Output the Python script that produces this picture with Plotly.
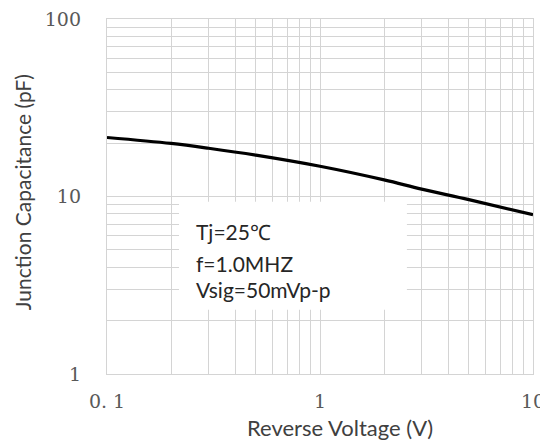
import plotly.graph_objects as go

# Data
voltage = [0.1, 0.2, 0.3, 0.5, 1, 2, 3, 5, 10]
capacitance = [21.5, 19.9, 18.7, 17.1, 14.8, 12.4, 11.0, 9.6, 7.9]

x_tickvals = [0.1, 1, 10]
x_ticktext = ["0. 1", "1", "10"]
y_tickvals = [1, 10, 100]
y_ticktext = ["1", "10", "100"]

x_title = "Reverse Voltage (V)"
y_title = "Junction Capacitance (pF)"
conditions = ["Tj=25\u2103", "f=1.0MHZ", "Vsig=50mVp-p"]

grid_color = "#d4d4d4"
tick_font = dict(family="DejaVu Serif", size=19, color="#595959")

fig = go.Figure()
fig.add_trace(go.Scatter(
    x=voltage, y=capacitance, mode="lines",
    line=dict(color="black", width=3.2, shape="spline", smoothing=1.0),
    showlegend=False, hoverinfo="skip",
))

common = dict(
    type="log", tickfont=tick_font, ticklabelstandoff=10, automargin=False,
    ticklabeloverflow="allow",
    showgrid=True, gridcolor=grid_color, gridwidth=1.3,
    minor=dict(dtick="D1", showgrid=True, gridcolor=grid_color, gridwidth=1.3),
    showline=True, linecolor=grid_color, linewidth=1.3, mirror=True,
    zeroline=False,
)
fig.update_xaxes(range=[-1, 1], tickvals=x_tickvals, ticktext=x_ticktext, **common)
fig.update_yaxes(range=[0, 2], tickvals=y_tickvals, ticktext=y_ticktext, **common)
fig.update_yaxes(ticklabelstandoff=21)

# axis titles
fig.add_annotation(text=x_title, xref="paper", yref="paper", x=0.546, y=0,
                   yshift=-53, xanchor="center", yanchor="middle", showarrow=False,
                   font=dict(family="Lato", size=22, color="#404040"))
fig.add_annotation(text=y_title, xref="paper", yref="paper", x=0, y=0.512,
                   xshift=-85, xanchor="center", yanchor="middle", showarrow=False,
                   textangle=-90,
                   font=dict(family="Lato", size=21, color="#404040"))

# white box behind the conditions text
fig.add_shape(type="rect", xref="paper", yref="paper",
              x0=0.169, x1=0.704, y0=0.181, y1=0.485,
              fillcolor="white", line=dict(width=0), layer="above")

text_y = [0.401, 0.311, 0.238]
for t, yy in zip(conditions, text_y):
    fig.add_annotation(text=t, xref="paper", yref="paper", x=0.204, y=yy,
                       xanchor="left", yanchor="middle", showarrow=False,
                       font=dict(family="Lato", size=21, color="#262626"))

# the page body adds an 8px offset, so the figure is 8px smaller than the window
fig.update_layout(
    width=540, height=435,
    margin=dict(l=99, r=15, t=11, b=69),
    paper_bgcolor="white", plot_bgcolor="white",
)

fig.write_html("out.html")
